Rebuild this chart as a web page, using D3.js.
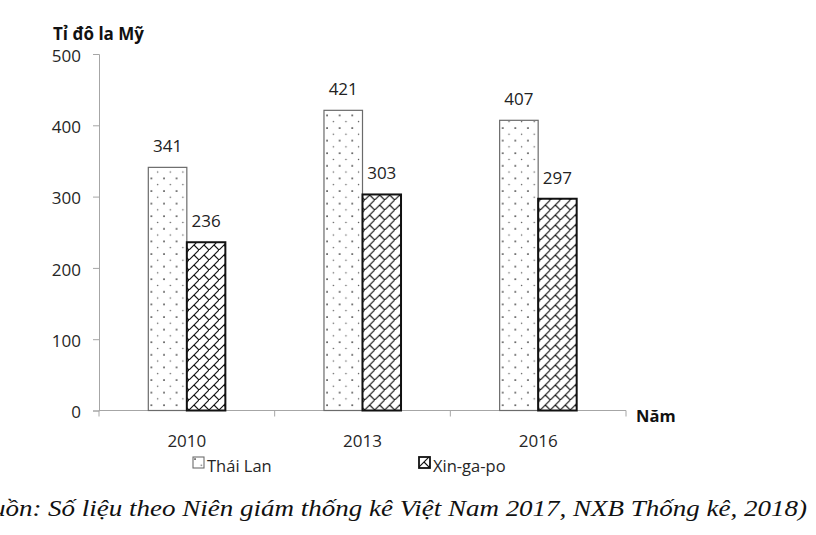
<!DOCTYPE html>
<html>
<head>
<meta charset="utf-8">
<script src="https://cdn.jsdelivr.net/npm/d3@7"></script>
<style>
  body { margin: 0; background: #fff; }
  svg { display: block; }
</style>
</head>
<body>
<svg id="chart" width="816" height="535"></svg>
<script>
// data
const years = ["2010", "2013", "2016"];
const series = ["Thái Lan", "Xin-ga-po"];
const thaiLan = [341, 421, 407];
const xinGaPo = [236, 303, 297];
const yTicks = [0, 100, 200, 300, 400, 500];

const values = [thaiLan, xinGaPo];
const rows = years.map((y, i) => ({ year: y, vals: series.map((s, j) => ({ key: s, value: values[j][i] })) }));

const svg = d3.select("#chart");
const tickFont = "'Open Sans', sans-serif";

const x0 = d3.scaleBand().domain(years).range([99, 626]).padding(0);
const x1 = d3.scaleBand().domain(series).range([0, x0.bandwidth()]).paddingInner(0).paddingOuter(1.28);
const y = d3.scaleLinear().domain([0, 500]).range([410.5, 54]);

// patterns
const defs = svg.append("defs");
const dots = defs.append("pattern")
    .attr("id", "dots")
    .attr("patternUnits", "userSpaceOnUse")
    .attr("width", 12.6).attr("height", 12.6);
dots.append("rect").attr("width", 12.6).attr("height", 12.6).attr("fill", "#fff");
dots.append("circle").attr("cx", 2).attr("cy", 2).attr("r", 0.85).attr("fill", "#222");
dots.append("circle").attr("cx", 8.3).attr("cy", 8.3).attr("r", 0.75).attr("fill", "#555");

const brick = defs.append("pattern")
    .attr("id", "brick")
    .attr("patternUnits", "userSpaceOnUse")
    .attr("width", 10).attr("height", 10);
brick.append("rect").attr("width", 10).attr("height", 10).attr("fill", "#fff");
brick.append("path")
    .attr("d", "M-1,11 L11,-1 M5,5 L10,10")
    .attr("stroke", "#111").attr("stroke-width", 1.15).attr("fill", "none");

const fills = { "Thái Lan": "url(#dots)", "Xin-ga-po": "url(#brick)" };
const strokes = { "Thái Lan": "#6b6b6b", "Xin-ga-po": "#111" };
const strokeW = { "Thái Lan": 1.2, "Xin-ga-po": 2 };

// y axis
const yAxis = svg.append("g").attr("transform", "translate(99,0)")
    .call(d3.axisLeft(y).tickValues(yTicks).tickSize(6).tickPadding(12));
yAxis.select(".domain").attr("stroke", "#a6a6a6");
yAxis.selectAll(".tick line").attr("stroke", "#a6a6a6");
yAxis.selectAll(".tick text")
    .attr("font-family", tickFont).attr("font-size", 17).attr("fill", "#262626").attr("dy", "0.42em");

// x axis with ticks at category boundaries
svg.append("line")
    .attr("x1", 99).attr("x2", 626).attr("y1", y(0)).attr("y2", y(0))
    .attr("stroke", "#a6a6a6");
svg.append("g").selectAll("line")
    .data(years.map(d => x0(d)).concat([x0.range()[1]]))
    .join("line")
    .attr("x1", d => d).attr("x2", d => d)
    .attr("y1", y(0)).attr("y2", y(0) + 6)
    .attr("stroke", "#a6a6a6");
svg.append("g").selectAll("text")
    .data(years)
    .join("text")
    .attr("x", d => x0(d) + x0.bandwidth() / 2)
    .attr("y", 447)
    .attr("text-anchor", "middle")
    .attr("font-family", tickFont).attr("font-size", 17).attr("fill", "#262626")
    .text(d => d);

// bars
const group = svg.append("g").selectAll("g")
    .data(rows)
    .join("g")
    .attr("transform", d => `translate(${x0(d.year)},0)`);

group.selectAll("rect")
    .data(d => d.vals)
    .join("rect")
    .attr("x", d => x1(d.key))
    .attr("y", d => y(d.value))
    .attr("width", x1.bandwidth())
    .attr("height", d => y(0) - y(d.value))
    .attr("fill", d => fills[d.key])
    .attr("stroke", d => strokes[d.key])
    .attr("stroke-width", d => strokeW[d.key]);

group.selectAll("text")
    .data(d => d.vals)
    .join("text")
    .attr("x", d => x1(d.key) + x1.bandwidth() / 2)
    .attr("y", d => y(d.value) - 15)
    .attr("text-anchor", "middle")
    .attr("font-family", tickFont).attr("font-size", 17).attr("fill", "#222")
    .text(d => d.value);

// axis titles
svg.append("text")
    .attr("x", 53).attr("y", 40)
    .attr("font-family", tickFont).attr("font-weight", "bold").attr("font-size", 17).attr("fill", "#111")
    .text("Tỉ đô la Mỹ");
svg.append("text")
    .attr("x", 636).attr("y", 422)
    .attr("font-family", tickFont).attr("font-weight", "bold").attr("font-size", 16.5).attr("fill", "#111")
    .text("Năm");

// legend
const legendX = [193, 419];
const legend = svg.append("g").selectAll("g")
    .data(series)
    .join("g")
    .attr("transform", (d, i) => `translate(${legendX[i]},457)`);
legend.append("rect")
    .attr("width", 11).attr("height", 11)
    .attr("fill", d => fills[d])
    .attr("stroke", d => strokes[d])
    .attr("stroke-width", d => strokeW[d] * 0.9);
legend.append("text")
    .attr("x", 14).attr("y", 15)
    .attr("font-family", tickFont).attr("font-size", 16.5).attr("fill", "#262626")
    .text(d => d);

// source caption (cut at the left edge, as in the picture)
svg.append("g")
    .attr("transform", "translate(807,516) scale(1.2,1)")
  .append("text")
    .attr("text-anchor", "end")
    .attr("font-family", "'Liberation Serif', serif").attr("font-style", "italic")
    .attr("font-size", 22.5).attr("fill", "#111")
    .text("(Nguồn: Số liệu theo Niên giám thống kê Việt Nam 2017, NXB Thống kê, 2018)");
</script>
</body>
</html>
